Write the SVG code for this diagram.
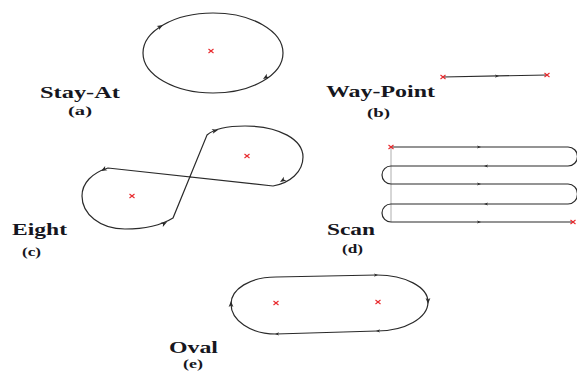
<svg xmlns="http://www.w3.org/2000/svg" xmlns:xlink="http://www.w3.org/1999/xlink" width="577" height="371" viewBox="0 0 577 371">
<style>
.path{fill:none;stroke:#2a2a2a;stroke-width:1.2}
.guide{fill:none;stroke:#9a9a9a;stroke-width:0.8}
.lbl{font-family:"Liberation Serif","Times New Roman",serif;font-weight:bold;font-size:17px;fill:#161620}
.sub{font-family:"Liberation Serif","Times New Roman",serif;font-weight:bold;font-size:13px;fill:#161620}
.arr{fill:#2a2a2a}
.mk{fill:none;stroke:#e8282c;stroke-width:1.1}
</style>
<defs>
<path id="ah" d="M0,0 L-6,-2.4 L-4.5,0 L-6,2.4 Z"/>
<path id="as" d="M0,0 L-4,-1.6 L-3,0 L-4,1.6 Z"/>
<path id="x" d="M-2.5,-2 L2.5,2 M-2.5,2 L2.5,-2"/>
</defs>
<rect width="577" height="371" fill="#fff"/>

<g id="stay-at">
<g class="connectors">
<ellipse class="path" cx="213" cy="53" rx="70" ry="40"/>
<use href="#ah" class="arr" transform="translate(163,25) rotate(-30)"/>
<use href="#ah" class="arr" transform="translate(263,79) rotate(148)"/>
</g>
<use href="#x" class="mk" transform="translate(211,51)"/>
<text class="lbl" x="40" y="98" textLength="80" lengthAdjust="spacingAndGlyphs">Stay-At</text>
<text class="sub" x="68" y="115" textLength="24" lengthAdjust="spacingAndGlyphs">(a)</text>
</g>

<g id="way-point">
<g class="connectors">
<path class="path" d="M443,77 L547,75"/>
<use href="#as" class="arr" transform="translate(499,76) rotate(-1)"/>
</g>
<use href="#x" class="mk" transform="translate(443,77)"/>
<use href="#x" class="mk" transform="translate(547,75)"/>
<text class="lbl" x="326" y="97" textLength="109" lengthAdjust="spacingAndGlyphs">Way-Point</text>
<text class="sub" x="367" y="117" textLength="23" lengthAdjust="spacingAndGlyphs">(b)</text>
</g>

<g id="eight">
<g class="connectors">
<path class="path" d="M108,168 C92,173 82,183 82,196 C82,214 100,229 125,229 C145,229 160,226 173,218 L207,135 C215,128 228,126 245,126 C280,126 303,140 303,157 C303,172 290,183 273,186 Z"/>
<use href="#ah" class="arr" transform="translate(101,171) rotate(152)"/>
<use href="#ah" class="arr" transform="translate(167,222) rotate(-28)"/>
<use href="#ah" class="arr" transform="translate(218,130) rotate(-14)"/>
<use href="#ah" class="arr" transform="translate(280,182) rotate(148)"/>
</g>
<use href="#x" class="mk" transform="translate(132,196)"/>
<use href="#x" class="mk" transform="translate(247,156)"/>
<text class="lbl" x="12" y="235" textLength="55" lengthAdjust="spacingAndGlyphs">Eight</text>
<text class="sub" x="22" y="256" textLength="19" lengthAdjust="spacingAndGlyphs">(c)</text>
</g>

<g id="scan">
<g class="connectors">
<path class="guide" d="M391,147 V222"/>
<path class="path" d="M391,147 H568 A9.5,9.5 0 0 1 568,166 H391 A9,9 0 0 0 391,184 H568 A9.5,10 0 0 1 568,204 H391 A9,9 0 0 0 391,222 H573"/>
<use href="#as" class="arr" transform="translate(481,147)"/>
<use href="#as" class="arr" transform="translate(484,166) rotate(180)"/>
<use href="#as" class="arr" transform="translate(481,184)"/>
<use href="#as" class="arr" transform="translate(484,204) rotate(180)"/>
<use href="#as" class="arr" transform="translate(481,222)"/>
</g>
<use href="#x" class="mk" transform="translate(391,147)"/>
<use href="#x" class="mk" transform="translate(573,222)"/>
<text class="lbl" x="327" y="235" textLength="48" lengthAdjust="spacingAndGlyphs">Scan</text>
<text class="sub" x="342" y="253" textLength="21" lengthAdjust="spacingAndGlyphs">(d)</text>
</g>

<g id="oval">
<g class="connectors">
<path class="path" d="M276,277 L377,275 C405,275 428,287 428,302 C428,318 405,331 377,331 L276,334 C250,334 231,320 231,304 C231,289 250,277 276,277 Z"/>
<use href="#as" class="arr" transform="translate(378,275) rotate(-1)"/>
<use href="#ah" class="arr" transform="translate(428,304) rotate(90)"/>
<use href="#as" class="arr" transform="translate(376,331) rotate(179)"/>
<use href="#as" class="arr" transform="translate(275,334) rotate(179)"/>
<use href="#ah" class="arr" transform="translate(231,301) rotate(-90)"/>
</g>
<use href="#x" class="mk" transform="translate(276,303)"/>
<use href="#x" class="mk" transform="translate(378,302)"/>
<text class="lbl" x="169" y="353" textLength="49" lengthAdjust="spacingAndGlyphs">Oval</text>
<text class="sub" x="183" y="368" font-size="12" style="font-size:12px" textLength="20" lengthAdjust="spacingAndGlyphs">(e)</text>
</g>
</svg>
